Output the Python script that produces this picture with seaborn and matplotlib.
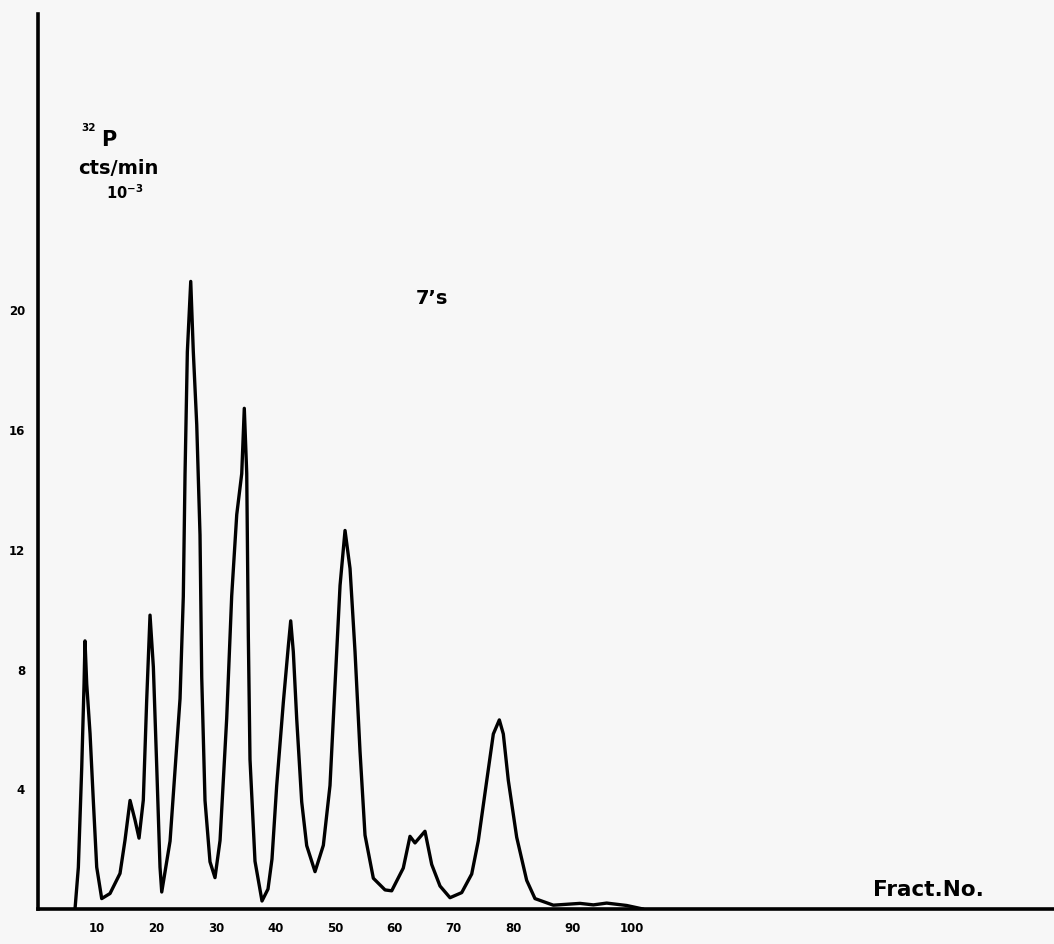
import matplotlib
matplotlib.use("Agg")
import matplotlib.pyplot as plt
import seaborn as sns
import pandas as pd

# Fraction number (x) and 32P counts/min x 10^-3 (y)
fraction = [6.29, 6.85, 7.42, 7.81, 7.97, 8.26, 8.82, 9.37, 9.94, 10.78, 12.18, 13.86, 14.7, 15.55, 16.39,
            17.06, 17.78, 18.35, 18.91, 19.47, 20.04, 20.59, 20.88, 22.28, 23.96, 24.51, 24.80, 25.19, 25.76,
            26.19, 26.77, 27.32, 27.61, 28.16, 29.0, 29.84, 30.69, 31.81, 32.65, 33.5, 34.34, 34.77, 35.18,
            35.45, 35.73, 36.57, 37.75, 38.76, 39.43, 40.22, 41.34, 42.18, 42.58, 43.02, 43.59, 44.43, 45.27,
            46.67, 48.07, 49.19, 50.03, 50.88, 51.72, 52.56, 53.4, 54.24, 55.08, 56.48, 58.45, 59.57, 61.52,
            62.65, 63.49, 65.17, 66.3, 67.7, 69.38, 71.35, 73.03, 74.14, 75.56, 76.67, 77.68, 78.35, 79.19,
            80.6, 82.28, 83.68, 86.76, 91.25, 93.5, 95.74, 99.1, 101.9]
counts = [0.0, 1.39, 4.73, 7.52, 8.96, 7.52, 5.86, 3.62, 1.40, 0.35, 0.52, 1.19, 2.30, 3.63, 2.97,
          2.37, 3.64, 6.98, 9.82, 8.09, 4.75, 1.40, 0.57, 2.27, 7.03, 10.44, 14.53, 18.62, 20.97,
          18.63, 16.18, 12.5, 7.73, 3.63, 1.58, 1.05, 2.29, 6.37, 10.46, 13.18, 14.55, 16.73, 14.56,
          9.11, 5.0, 1.60, 0.27, 0.67, 1.67, 4.12, 6.91, 8.79, 9.63, 8.59, 6.35, 3.58, 2.12,
          1.25, 2.13, 4.13, 7.47, 10.81, 12.65, 11.38, 8.6, 5.27, 2.47, 1.03, 0.64, 0.61, 1.37,
          2.43, 2.21, 2.60, 1.49, 0.77, 0.38, 0.55, 1.17, 2.28, 4.29, 5.85, 6.32, 5.85, 4.3,
          2.4, 0.96, 0.35, 0.13, 0.19, 0.14, 0.2, 0.12, 0.0]

x_ticks = [10, 20, 30, 40, 50, 60, 70, 80, 90, 100]
y_ticks = [2, 4, 6, 8, 10, 12, 14, 16, 18, 20]
y_tick_labels = ["", "4", "", "8", "", "12", "", "16", "", "20"]

df = pd.DataFrame({"fraction": fraction, "counts": counts})

sns.set_style("white")
plt.rcParams["font.family"] = ["DejaVu Sans"]
plt.rcParams["text.color"] = "black"

fig = plt.figure(figsize=(10.54, 9.44), dpi=100, facecolor="#f7f7f7")
ax = fig.add_axes([0.0357, 0.037, 0.9643, 0.948])
ax.set_facecolor("#f7f7f7")

sns.lineplot(data=df, x="fraction", y="counts", ax=ax, color="black", linewidth=2.4,
             sort=False, estimator=None, solid_joinstyle="round", solid_capstyle="round")

ax.set_xlim(0, 171)
ax.set_ylim(0, 29.9)

ax.set_xticks(x_ticks)
ax.set_xticklabels([str(t) for t in x_ticks], fontsize=8.5, fontweight="bold", color="black")
ax.set_yticks(y_ticks)
ax.set_yticklabels(y_tick_labels, fontsize=8.5, fontweight="bold", color="black")
ax.tick_params(axis="both", direction="out", length=6, width=2, color="black", pad=3)

for side in ["top", "right"]:
    ax.spines[side].set_visible(False)
for side in ["left", "bottom"]:
    ax.spines[side].set_linewidth(2.6)
    ax.spines[side].set_color("black")

ax.set_xlabel("")
ax.set_ylabel("")

ax.text(8.5, 26.1, "32", fontsize=7.5, fontweight="bold", ha="center", va="center", color="black")
ax.text(11.9, 25.7, "P", fontsize=15, fontweight="bold", ha="center", va="center", color="black")
ax.text(13.5, 24.75, "cts/min", fontsize=14, fontweight="semibold", ha="center", va="center", color="black")
ax.text(14.7, 23.95, r"$\mathbf{10^{-3}}$", fontsize=10.5, ha="center", va="center", color="black")
ax.text(66.4, 20.4, "7\u2019s", fontsize=14, fontweight="bold", ha="center", va="center", color="black")
ax.text(149.8, 0.65, "Fract.No.", fontsize=15.5, fontweight="bold", ha="center", va="center", color="black")

ax.grid(False)
fig.savefig("out.png", dpi=100, facecolor=fig.get_facecolor())
